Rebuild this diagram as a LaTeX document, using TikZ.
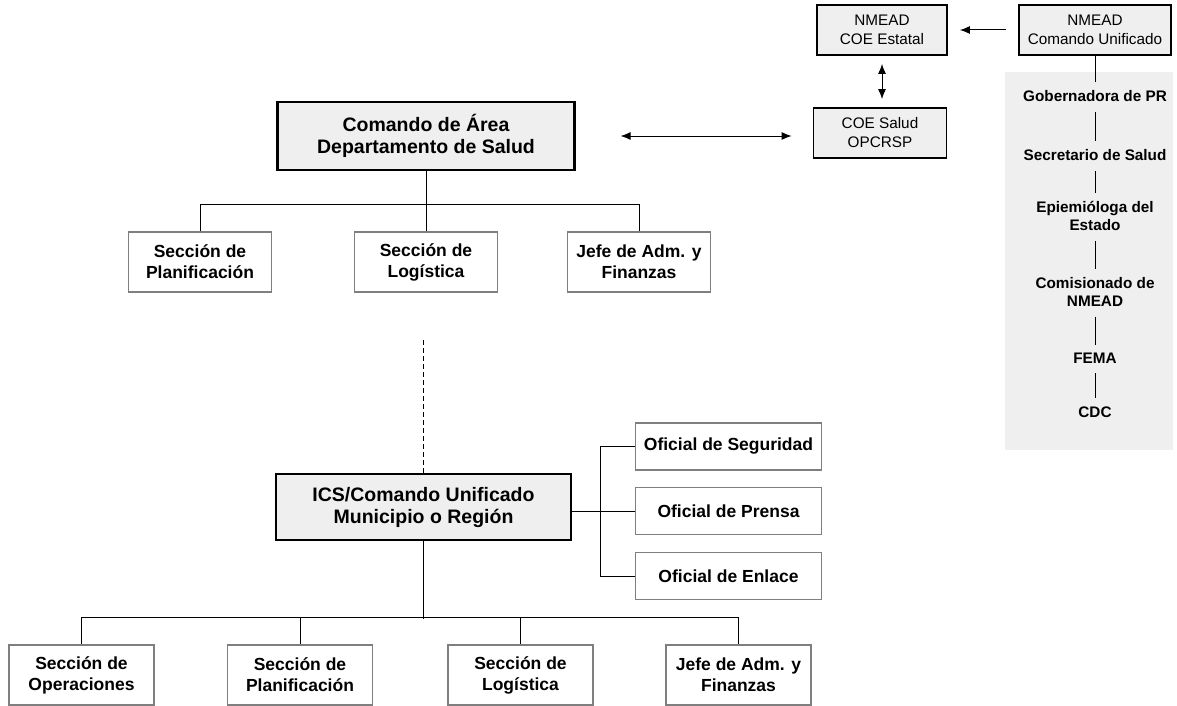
\documentclass[tikz,border=0pt]{standalone}
\usepackage{fontspec}
\setmainfont{Liberation Sans}
\usetikzlibrary{arrows.meta}

\definecolor{boxgray}{HTML}{EFEFEF}
\definecolor{edgegray}{HTML}{7F7F7F}

\tikzset{
  mainbox/.style={draw=black, line width=2.2pt, fill=boxgray, inner sep=0pt,
    align=center, font=\bfseries\fontsize{19.5}{22}\selectfont},
  unitbox/.style={draw=edgegray, line width=1.8pt, fill=white, inner sep=0pt,
    minimum width=143, minimum height=60,
    align=center, font=\bfseries\fontsize{17.5}{21}\selectfont},
  aidebox/.style={draw=edgegray, line width=1.8pt, fill=white, inner sep=0pt,
    minimum width=186, minimum height=47,
    font=\bfseries\fontsize{17.5}{21}\selectfont},
  nmeadbox/.style={draw=black, line width=1.8pt, fill=boxgray, inner sep=0pt,
    align=center, font=\fontsize{15.3}{19}\selectfont},
  cargo/.style={inner sep=2pt, align=center,
    font=\bfseries\fontsize{15.3}{18}\selectfont},
  link/.style={line width=1pt},
  rung/.style={line width=0.9pt, shorten <=8pt, shorten >=6pt},
  tip/.style={line width=1pt, >={Latex[length=10pt,width=8pt]}},
}

\begin{document}
\begin{tikzpicture}[x=1pt, y=-1pt]
\useasboundingbox[fill=white] (0,0) rectangle (1177,706);

% cadena de mando estatal
\fill[boxgray] (1005,72) rectangle (1173,450);
\node (estatal) at (882,30) [nmeadbox, minimum width=130, minimum height=50] {NMEAD\\COE Estatal};
\node (unificado) at (1095,30) [nmeadbox, minimum width=152, minimum height=50] {NMEAD\\Comando Unificado};
\node (coesalud) at (880,133) [nmeadbox, minimum width=133, minimum height=50] {COE Salud\\OPCRSP};
\node (gob) at (1095,96) [cargo] {Gobernadora de PR};
\node (secre) at (1095,155) [cargo] {Secretario de Salud};
\node (epi) at (1095,216) [cargo] {Epiemióloga del\\Estado};
\node (comis) at (1095,292) [cargo] {Comisionado de\\NMEAD};
\node (fema) at (1095,358) [cargo] {FEMA};
\node (cdc) at (1095,412) [cargo] {CDC};

\draw[tip, ->, shorten <=12pt, shorten >=12pt] (unificado.west) -- (estatal.east);
\draw[tip, <->, shorten <=8pt, shorten >=8pt] (estatal.south) -- (coesalud.north -| estatal.south);
\draw[rung, shorten <=0pt] (unificado.south) -- (gob.north);
\draw[rung] (gob) -- (secre);
\draw[rung] (secre) -- (epi);
\draw[rung] (epi) -- (comis);
\draw[rung] (comis) -- (fema);
\draw[rung] (fema) -- (cdc);

% comando de area
\node (area) at (426,136) [mainbox, minimum width=297, minimum height=68] {Comando de Área\\Departamento de Salud};
\node (plan1) at (200,262) [unitbox] {Sección de\\Planificación};
\node (log1) at (426,262) [unitbox] {Sección de\\Logística};
\node (jefe1) at (639,262) [unitbox] {Jefe de Adm. y\\Finanzas};

\draw[tip, <->, shorten <=45pt, shorten >=21pt] (area.east) -- (area.east -| coesalud.west);
\draw[link] (area.south) -- (log1.north);
\draw[link] (plan1.north) -- ++(0,-27) -| (jefe1.north);

% comando local
\coordinate (enlazo) at (423,340);
\node (ics) at (423.5,507) [mainbox, minimum width=295, minimum height=66] {ICS/Comando Unificado\\Municipio o Región};
\node (seg) at (728.5,446.5) [aidebox] {Oficial de Seguridad};
\node (prensa) at (728.5,511) [aidebox] {Oficial de Prensa};
\node (enlace) at (728.5,576) [aidebox] {Oficial de Enlace};
\coordinate (ramal) at (600,0);

\draw[link, dash pattern=on 5pt off 3pt] (enlazo) -- (ics.north -| enlazo);
\draw[link] (ics.east |- prensa.west) -- (prensa.west);
\draw[link] (seg.west) -- (seg.west -| ramal) -- (enlace.west -| ramal) -- (enlace.west);

\node (ops) at (81.5,675) [unitbox, minimum width=145] {Sección de\\Operaciones};
\node (plan2) at (300,675) [unitbox, minimum width=145] {Sección de\\Planificación};
\node (log2) at (520.5,675) [unitbox, minimum width=145] {Sección de\\Logística};
\node (jefe2) at (738.5,675) [unitbox, minimum width=145] {Jefe de Adm. y\\Finanzas};

\draw[link] (ics.south) -- ++(0,78);
\draw[link] (ops.north) -- ++(0,-27) -| (jefe2.north);
\draw[link] (plan2.north) -- ++(0,-27);
\draw[link] (log2.north) -- ++(0,-27);
\end{tikzpicture}
\end{document}
